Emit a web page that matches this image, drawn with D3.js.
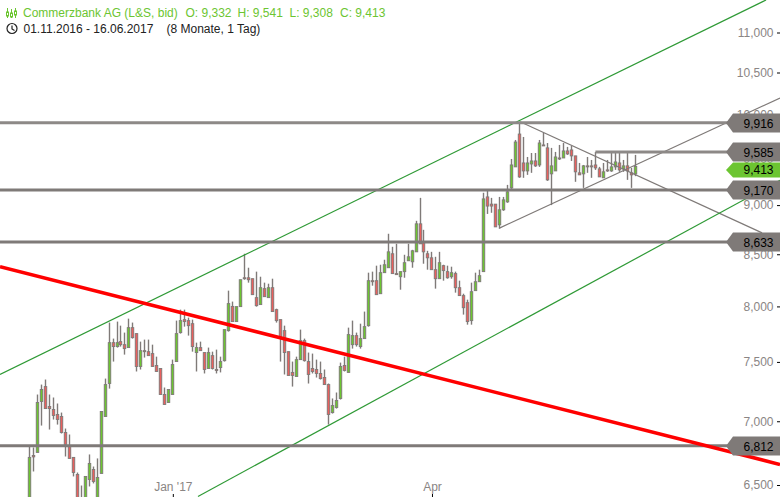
<!DOCTYPE html>
<html><head><meta charset="utf-8">
<script src="https://cdn.jsdelivr.net/npm/d3@7"></script>
<style>
html,body{margin:0;padding:0;background:#fff}
svg{display:block}
text{font-family:"Liberation Sans",Arial,sans-serif;font-size:12px}
</style></head><body><div id="c"></div>
<script>
const opens=[6282,6727,6751,7163,7288,7121,7096,7055,7039,6909,6798,6712,6580,6392,6318,6542,6618,6318,6588,7039,7314,7670,7635,7679,7652,7626,7805,7751,7460,7599,7590,7573,7469,7443,7221,7154,7221,7503,7760,7878,7869,7841,7582,7626,7582,7443,7555,7434,7451,7511,7778,8000,7860,7998,8271,8271,8262,8082,8017,8167,8082,8176,7970,7878,7778,7590,7409,7374,7520,7688,7503,7443,7434,7400,7365,7305,7071,7113,7188,7469,7409,7652,7733,7635,7706,7823,8243,8243,8119,8320,8368,8505,8311,8281,8330,8436,8426,8524,8806,8614,8505,8465,8349,8262,8388,8330,8281,8311,8176,8101,8035,7869,8148,8233,8330,9086,9010,9010,8796,8951,9034,9182,9409,9775,9452,9365,9441,9474,9430,9652,9619,9333,9365,9507,9507,9585,9596,9530,9344,9333,9420,9420,9430,9387,9290,9376,9365,9409,9452,9387,9420,9344,9332];
const highs=[6798,6790,7221,7305,7348,7221,7196,7146,7071,6941,6893,6712,6595,6496,6565,6735,6641,6704,7080,7356,7851,7706,7860,7823,7760,7887,7851,7751,7679,7697,7697,7652,7546,7443,7280,7263,7520,7869,7970,7970,7896,7878,7670,7679,7582,7626,7590,7608,7546,7787,8148,8045,7998,8252,8505,8368,8262,8330,8281,8224,8214,8262,7979,7878,7823,7590,7503,7546,7787,7706,7582,7573,7520,7503,7434,7314,7188,7238,7494,7546,7805,7869,7760,7841,7952,8320,8330,8388,8397,8446,8705,8574,8604,8330,8495,8604,8544,8837,9076,8745,8534,8524,8475,8524,8397,8388,8378,8330,8243,8119,8063,8224,8320,8349,9130,9161,9076,9010,9086,9086,9214,9496,9708,9914,9742,9518,9562,9562,9708,9787,9674,9619,9574,9652,9674,9630,9641,9530,9452,9430,9518,9485,9574,9409,9452,9485,9574,9574,9562,9485,9562,9398,9541];
const lows=[6245,6603,6751,6965,7104,6933,7014,6973,6901,6719,6704,6565,6318,6280,6318,6489,6512,6318,6588,7039,7271,7503,7626,7635,7564,7626,7706,7417,7434,7538,7555,7460,7417,7221,7138,7154,7221,7503,7751,7814,7733,7590,7417,7599,7400,7443,7434,7400,7409,7503,7769,7860,7860,7998,8252,8224,8110,7998,8017,8091,8082,7952,7851,7503,7391,7383,7288,7374,7520,7503,7314,7400,7365,7348,7305,6973,7063,7104,7179,7417,7409,7617,7635,7617,7706,7814,8195,8110,8119,8320,8368,8311,8301,8157,8271,8436,8368,8524,8604,8407,8349,8349,8167,8262,8243,8262,8262,8129,8101,7924,7832,7832,8148,8233,8330,8908,8920,8775,8755,8940,9024,9172,9409,9290,9290,9322,9344,9409,9409,9641,9257,9000,9365,9485,9507,9541,9474,9247,9322,9182,9344,9290,9376,9300,9290,9355,9355,9376,9355,9355,9268,9182,9308];
const closes=[6712,6716,7154,7263,7104,7104,7047,7014,6909,6814,6704,6595,6318,6302,6565,6665,6527,6557,7080,7305,7670,7635,7670,7652,7617,7805,7715,7460,7599,7590,7555,7460,7417,7221,7138,7263,7477,7751,7869,7860,7823,7635,7626,7599,7434,7582,7443,7426,7503,7787,8026,7860,7998,8252,8262,8252,8110,8007,8176,8091,8176,7952,7869,7715,7582,7383,7383,7520,7688,7511,7391,7417,7400,7356,7305,7055,7129,7171,7460,7426,7742,7733,7652,7706,7814,8243,8233,8110,8320,8397,8524,8311,8301,8330,8417,8475,8534,8806,8604,8524,8465,8349,8262,8417,8340,8271,8320,8176,8101,7988,7860,8138,8233,8291,9065,8990,8990,8775,8951,9055,9140,9430,9685,9300,9365,9452,9474,9420,9674,9641,9268,9420,9518,9496,9585,9552,9530,9355,9322,9420,9409,9409,9398,9300,9355,9365,9409,9463,9376,9420,9365,9322,9413];

const yTicks=[11000,10500,10000,9500,9000,8500,8000,7500,7000,6500];
const xTickIndex=[36,101];
const xTickLabels=["Jan '17","Apr"];
const levels=[9916,9585,9170,8633,6812];
const levelStart=[-7.35,142,-7.35,-7.35,-7.35];
const levelColors=["#8d8987","#8d8987","#7f7a78","#7f7a78","#7f7a78"];
const lastPrice=9413;
const trendGreenUpper=[[-7.35,7391],[184.8,11424]];
const trendGreenLower=[[42.3,6414],[188.3,9264]];
const trendRed=[[-7.35,8378],[188.3,6657]];
const trendGreyUpper=[[123.1,9916],[183.8,8714]];
const trendGreyLower=[[118.05,8765],[188.3,10193]];

const W=780,H=497;
const GREY="#7f7a78",GREEN="#6cc531",REDC="#e8605e";
const x=d3.scaleLinear().domain([0,152]).range([29.3,635.3]);
const y=d3.scaleLog().domain([6500,11000]).range([485,32.5]);
const svg=d3.select("#c").append("svg").attr("width",W).attr("height",H);
const fmt=d3.format(",");
const LEVEL_SHIFT=1;

// axes
const ya=svg.append("g").attr("transform",`translate(${W},0)`)
 .call(d3.axisLeft(y).tickValues(yTicks).tickFormat(fmt).tickSize(3).tickPadding(3.5));
ya.select(".domain").remove();
ya.selectAll("line").attr("stroke","#000");
ya.selectAll("text").attr("fill","#8a8584").style("font-size","12px");
const xa=svg.append("g").attr("transform",`translate(0,${H})`)
 .call(d3.axisTop(x).tickValues(xTickIndex).tickFormat((d,i)=>xTickLabels[i]).tickSize(3).tickPadding(3));
xa.select(".domain").remove();
xa.selectAll("line").attr("stroke","#000");
xa.selectAll("text").attr("fill","#8a8584").style("font-size","12px");

// candles
const idx=d3.range(closes.length);
const cx=i=>Math.floor(x(i))+0.5;
const g=svg.append("g");
g.selectAll("line").data(idx).join("line")
 .attr("x1",cx).attr("x2",cx)
 .attr("y1",i=>y(highs[i])).attr("y2",i=>y(lows[i]))
 .attr("stroke",GREY).attr("stroke-width",1.4);
g.selectAll("rect").data(idx).join("rect")
 .attr("x",i=>cx(i)-1.25).attr("width",2.5)
 .attr("y",i=>y(Math.max(opens[i],closes[i])))
 .attr("height",i=>Math.max(0.6,y(Math.min(opens[i],closes[i]))-y(Math.max(opens[i],closes[i]))))
 .attr("fill",i=>closes[i]>=opens[i]?GREEN:REDC)
 .attr("stroke",GREY).attr("stroke-width",0.9);

// trend lines
const ln=d3.line().x(d=>x(d[0])).y(d=>y(d[1]));
function tl(data,color,w,dy){svg.append("path").attr("d",ln(data)).attr("fill","none").attr("stroke",color).attr("stroke-width",w).attr("transform",`translate(0,${dy||0})`);}
tl(trendGreyUpper,GREY,1.2);
tl(trendGreyLower,GREY,1.2);
tl(trendGreenUpper,"#2f9a36",1.2);
tl(trendGreenLower,"#2f9a36",1.2);
levels.forEach((v,i)=>tl([[levelStart[i],v],[188.3,v]],levelColors[i],3,LEVEL_SHIFT));
tl(trendRed,"#ff0000",3.5);

// price tags
const tagPath=(cy,h)=>{const t=cy-h/2,b=cy+h/2;return `M780,${t}H733L726,${cy}L733,${b}H780Z`;};
levels.forEach(v=>{
  const cy=Math.round(y(v))+LEVEL_SHIFT;
  svg.append("path").attr("d",tagPath(cy,19)).attr("fill",GREY);
  svg.append("text").attr("x",773.5).attr("y",cy+4.5).attr("text-anchor","end").attr("fill","#000").text(fmt(v));
});
{
  const cy=Math.round(y(lastPrice))+3;
  svg.append("path").attr("d",tagPath(cy,15)).attr("fill",GREEN);
  svg.append("text").attr("x",773.5).attr("y",cy+4).attr("text-anchor","end").attr("fill","#000").text(fmt(lastPrice));
}

// header
const hdr=[["Commerzbank AG (L&S, bid)",23],["O: 9,332",185.5],["H: 9,541",237.5],["L: 9,308",289.5],["C: 9,413",340]];
hdr.forEach(d=>svg.append("text").attr("x",d[1]).attr("y",17).attr("fill",GREEN).text(d[0]));
svg.append("text").attr("x",23.5).attr("y",33).attr("fill","#222").text("01.11.2016 - 16.06.2017");
svg.append("text").attr("x",166.5).attr("y",33).attr("fill","#222").text("(8 Monate, 1 Tag)");
// icons
const ic=svg.append("g").attr("stroke",GREEN).attr("fill","none").attr("stroke-width",1);
[[7.5,8,18,12,16],[11.5,9,18,13,17],[15.5,8,18,11,15]].forEach(d=>{
  ic.append("line").attr("x1",d[0]).attr("x2",d[0]).attr("y1",d[1]).attr("y2",d[2]);
  ic.append("rect").attr("x",d[0]-1).attr("width",2).attr("y",d[3]).attr("height",d[4]-d[3]).attr("fill","#fff");
});
const ck=svg.append("g").attr("stroke","#222").attr("fill","none").attr("stroke-width",1.2);
ck.append("circle").attr("cx",12).attr("cy",28.5).attr("r",5);
ck.append("path").attr("d","M12,25.5V29L14.5,30.5");
</script></body></html>
